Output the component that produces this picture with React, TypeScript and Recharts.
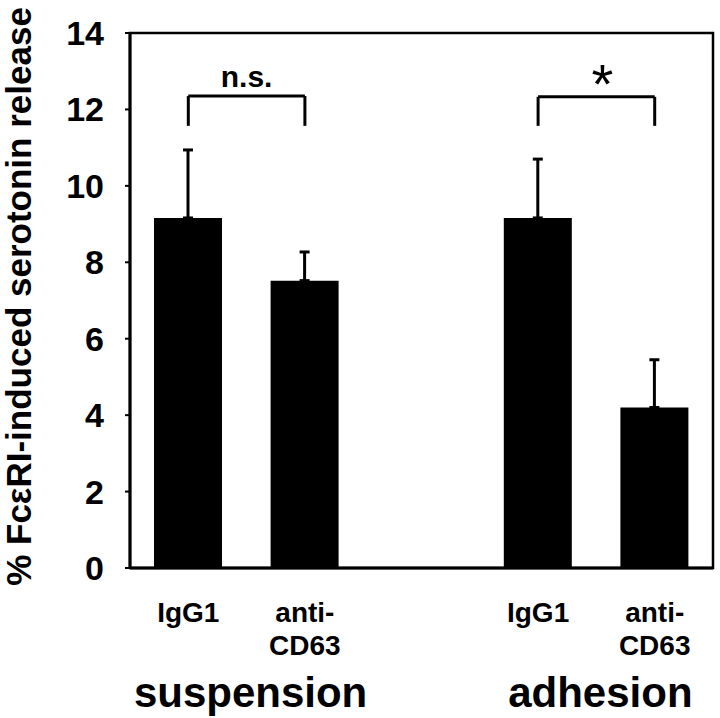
import React from 'react'
import {
  BarChart,
  Bar,
  XAxis,
  YAxis,
  ErrorBar,
  ReferenceLine,
  ReferenceArea,
} from 'recharts'

const FONT = "'Liberation Sans', Arial, Helvetica, sans-serif"

// one slot per bar, the empty slot separates the two conditions
const categories = ['s-igg1', 's-cd63', 'gap', 'a-igg1', 'a-cd63']
const tickLines: string[][] = [['IgG1'], ['anti-', 'CD63'], [], ['IgG1'], ['anti-', 'CD63']]
const releaseValues: (number | null)[] = [9.16, 7.52, null, 9.16, 4.2]
const upperErrors: (number | null)[] = [1.78, 0.75, null, 1.54, 1.25]
const yTicks = [0, 2, 4, 6, 8, 10, 12, 14]

// group label is drawn under the first bar of each group
const groupLabels: Record<string, string> = {
  's-igg1': 'suspension',
  'a-igg1': 'adhesion',
}

// significance brackets
const brackets = [
  { from: 's-igg1', to: 's-cd63', top: 12.35, bottom: 11.57, text: 'n.s.' },
  { from: 'a-igg1', to: 'a-cd63', top: 12.33, bottom: 11.57, text: '*' },
]

const data = categories.map((id, i) => ({
  id,
  value: releaseValues[i],
  errRange: upperErrors[i] == null ? null : [0, upperErrors[i]],
}))

const CategoryTick = (props: any) => {
  const { x, y, payload } = props
  const idx = categories.indexOf(payload.value)
  const lines = tickLines[idx] || []
  const half = payload.offset ?? 58
  const group = groupLabels[payload.value]
  return (
    <g>
      {lines.map((line, i) => (
        <text
          key={i}
          x={x}
          y={y + 54 + i * 33}
          textAnchor="middle"
          fontFamily={FONT}
          fontWeight="bold"
          fontSize={28}
          fill="#000"
        >
          {line}
        </text>
      ))}
      {group && (
        <text
          x={x + half + 4}
          y={y + 139}
          textAnchor="middle"
          fontFamily={FONT}
          fontWeight="bold"
          fontSize={42}
          fill="#000"
        >
          {group}
        </text>
      )}
    </g>
  )
}

export default function App() {
  return (
    <div style={{ width: 720, height: 718, background: '#fff' }}>
      <style>{'body{margin:0}'}</style>
      <BarChart
        width={720}
        height={718}
        data={data}
        margin={{ top: 33, right: 7, bottom: 0, left: 0 }}
      >
        <ReferenceArea
          y1={0}
          y2={14}
          fill="none"
          stroke="#000"
          strokeWidth={2.5}
        />
        <XAxis
          dataKey="id"
          interval={0}
          height={150}
          tickLine={false}
          tickSize={0}
          tickMargin={0}
          axisLine={{ stroke: '#000', strokeWidth: 3 }}
          tick={<CategoryTick />}
        />
        <YAxis
          domain={[0, 14]}
          ticks={yTicks}
          width={130}
          tickSize={5}
          tickMargin={21}
          axisLine={{ stroke: '#000', strokeWidth: 3 }}
          tickLine={{ stroke: '#000', strokeWidth: 2 }}
          tick={{ fill: '#000', fontSize: 34, fontWeight: 'bold', fontFamily: FONT }}
          label={{
            value: '% FcεRI-induced serotonin release',
            angle: -90,
            position: 'center',
            dx: -46,
            dy: -4,
            fill: '#000',
            fontSize: 35,
            fontWeight: 'bold',
            fontFamily: FONT,
          }}
        />
        <Bar dataKey="value" fill="#000" barSize={68} isAnimationActive={false}>
          <ErrorBar
            dataKey="errRange"
            width={5}
            stroke="#000"
            strokeWidth={3}
            isAnimationActive={false}
          />
        </Bar>
        {brackets.map((b) => (
          <React.Fragment key={b.from}>
            <ReferenceLine
              segment={[
                { x: b.from, y: b.top },
                { x: b.to, y: b.top },
              ]}
              stroke="#000"
              strokeWidth={3}
              label={
                b.text === '*'
                  ? {
                      value: b.text,
                      position: 'top',
                      offset: -6,
                      dx: 6,
                      fill: '#000',
                      fontSize: 56,
                      fontFamily: FONT,
                    }
                  : {
                      value: b.text,
                      position: 'top',
                      offset: 9,
                      fill: '#000',
                      fontSize: 30,
                      fontWeight: 'bold',
                      fontFamily: FONT,
                    }
              }
            />
            <ReferenceLine
              segment={[
                { x: b.from, y: b.top },
                { x: b.from, y: b.bottom },
              ]}
              stroke="#000"
              strokeWidth={3}
            />
            <ReferenceLine
              segment={[
                { x: b.to, y: b.top },
                { x: b.to, y: b.bottom },
              ]}
              stroke="#000"
              strokeWidth={3}
            />
          </React.Fragment>
        ))}
      </BarChart>
    </div>
  )
}
